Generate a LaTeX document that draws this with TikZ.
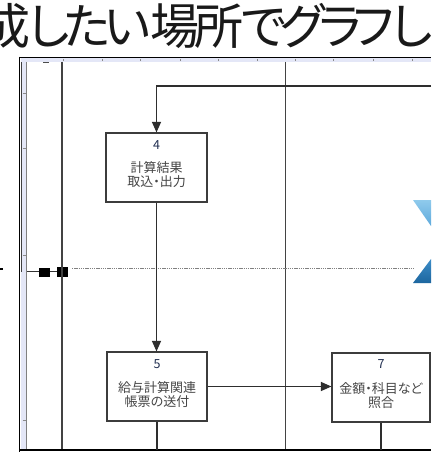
\documentclass[tikz,border=0pt]{standalone}
\usepackage{fontspec}
\setmainfont{Noto Sans CJK JP}
\newfontfamily\jpfont{Noto Sans CJK JP}
\newfontfamily\jppfont[RawFeature=+palt]{Noto Sans CJK JP}
\usetikzlibrary{arrows.meta}
\definecolor{lncol}{HTML}{2E2E2E}
\definecolor{boxcol}{HTML}{3C3C3C}
\definecolor{txtcol}{HTML}{454545}
\definecolor{numcol}{HTML}{1F2D4F}
\definecolor{lav}{HTML}{E4E7F7}
\definecolor{tickcol}{HTML}{8A8A8A}
\definecolor{bluelight}{HTML}{8FCAEC}
\definecolor{bluelight2}{HTML}{5FAADC}
\definecolor{bluedark}{HTML}{3C8DC8}
\definecolor{bluedark2}{HTML}{1D669F}
\tikzset{
  procbox/.style={draw=boxcol, line width=1.2pt, fill=white, minimum height=69pt, inner sep=0pt},
  boxnum/.style={text=numcol, font=\jpfont\fontsize{12.5}{13}\selectfont, inner sep=0pt},
  boxtxt/.style={text=txtcol, font=\jppfont\fontsize{13}{14}\selectfont, inner sep=0pt},
  flow/.style={draw=lncol, line width=1.2pt},
  flowarr/.style={flow, -{Triangle[length=10.5pt,width=9pt]}},
  laneline/.style={draw=lncol!90!white, line width=1.4pt},
  frameline/.style={draw=black, line width=1.8pt},
  tick/.style={draw=tickcol, line width=0.8pt},
  titlechar/.style={font=\jpfont\fontsize{49}{54}\selectfont, inner sep=0pt, anchor=base, text=black!90}
}
\begin{document}
\begin{tikzpicture}[x=1pt,y=-1pt]
\useasboundingbox (0,0) rectangle (431,452);
\clip (0,0) rectangle (431,452);
\fill[white] (0,0) rectangle (431,452);

% title (cut off at top)
\node[titlechar] (c1) at (6,44.5) {成};
\node[titlechar] (c2) at (49,44.5) {し};
\node[titlechar] (c3) at (87,44.5) {た};
\node[titlechar] (c4) at (128,44.5) {い};
\node[titlechar] (c5) at (175,44.5) {場};
\node[titlechar] (c6) at (219,44.5) {所};
\node[titlechar] (c7) at (264,44.5) {で};
\node[titlechar] (c8) at (304,44.5) {グ};
\node[titlechar] (c9) at (340,44.5) {ラ};
\node[titlechar] (c10) at (374,44.5) {フ};
\node[titlechar] (c11) at (412,44.5) {し};

% window frame and rulers
\fill[lav] (20.5,58.5) rectangle (431,62);
\fill[lav] (20.5,58.5) rectangle (26.5,450);
\fill[black!75] (20.5,62) rectangle (22.3,272);
\draw[draw=black!50, line width=1.1pt] (26.8,62) -- (26.8,450);
\foreach \tx in {63,102,140,180,218,257,295,333,373,412} {
  \draw[tick] (\tx,59) -- (\tx,61.5);
}
\draw[draw=black!70, line width=1pt] (43,62.5) -- (49,62.5);
\foreach \ty in {93,148,255,420} {
  \draw[tick] (22.5,\ty) -- (25.5,\ty);
}
\draw[frameline] (19,57.5) -- (431,57.5);
\draw[frameline] (19.5,56.6) -- (19.5,452);

% lane separators
\draw[laneline] (62,62) -- (62,450);
\draw[laneline] (285.5,62) -- (285.5,450);

% splitter handle and dotted guide
\draw[draw=black!80, line width=1.1pt] (27,271.8) -- (57,271.8);
\fill[black] (39.3,267.8) rectangle (50,276.6);
\fill[black] (56.8,266.8) rectangle (60.8,277.3);
\fill[black] (63.2,266.8) rectangle (68.3,277.3);
\draw[draw=black!50, line width=0.9pt, dash pattern=on 1.4pt off 0.8pt] (72,268) -- (414,268);
\fill[black] (0,268.2) rectangle (3,270.4);

% blue shape at right edge
\shade[top color=bluelight, bottom color=bluelight2] (413,200) -- (431,200) -- (431,226) -- cycle;
\shade[top color=bluedark, bottom color=bluedark2] (413,283) -- (431,283) -- (431,259) -- cycle;

% bottom frame line
\draw[frameline] (19,450.3) -- (431,450.3);

% process boxes
\node[procbox, minimum width=101pt] (b4) at (156.5,167.5) {};
\node[procbox, minimum width=100pt] (b5) at (157,386.5) {};
\node[procbox, minimum width=98pt] (b7) at (381,387.5) {};

\node[boxnum] (n4) at (156.5,145) {4};
\node[boxtxt] (t4a) at (156.5,168) {計算結果};
\node[boxtxt] (t4b) at (156.5,182) {取込・出力};

\node[boxnum] (n5) at (157,364) {5};
\node[boxtxt] (t5a) at (157,387.5) {給与計算関連};
\node[boxtxt] (t5b) at (157,401.5) {帳票の送付};

\node[boxnum] (n7) at (381,364.5) {7};
\node[boxtxt] (t7a) at (381,389) {金額・科目など};
\node[boxtxt] (t7b) at (381,403) {照合};

% connectors
\coordinate (inR) at (431,86);
\coordinate (out5) at (157,450);
\coordinate (out7) at (381,450);
\draw[flowarr] (inR) -| (b4.north);
\draw[flowarr] (b4.south) -- (b4.south |- b5.north);
\draw[flowarr] (b5.east) -- (b5.east -| b7.west);
\draw[flow] (b5.south) -- (out5);
\draw[flow] (b7.south) -- (out7);
\end{tikzpicture}
\end{document}
